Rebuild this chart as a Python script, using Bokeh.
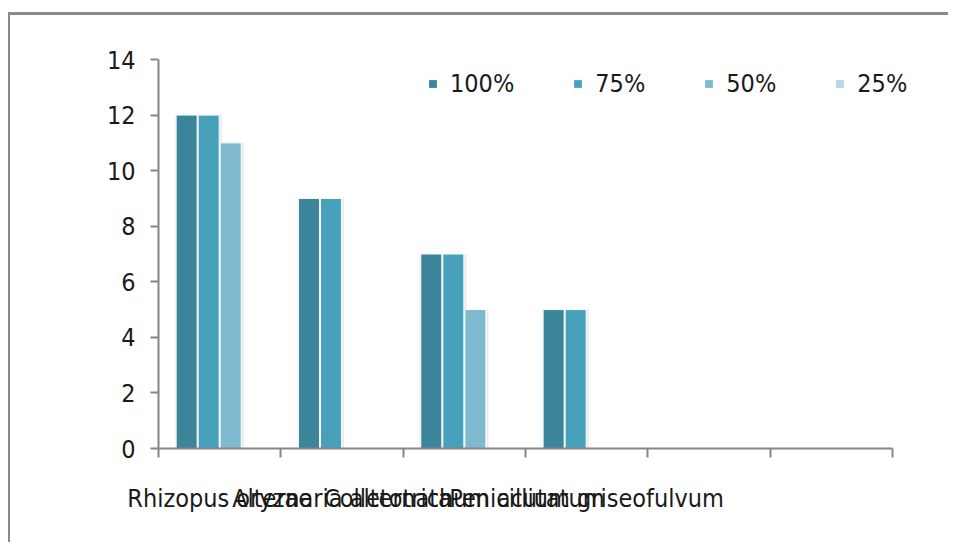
from bokeh.plotting import figure
from bokeh.models import (Range1d, LinearAxis, FixedTicker, ColumnDataSource, Legend, LegendItem)
from bokeh.transform import dodge
from bokeh.embed import file_html
from bokeh.resources import INLINE

categories = ["Rhizopus oryzae", "Alternaria alternata", "Colletotrichum acutatum",
              "Penicillium griseofulvum", "", ""]
series = ["100%", "75%", "50%", "25%"]
v100 = [12, 9, 7, 5, 0, 0]
v75 = [12, 9, 7, 5, 0, 0]
v50 = [11, 0, 5, 0, 0, 0]
v25 = [0, 0, 0, 0, 0, 0]
colors = ["#3A8599", "#48A1BA", "#7FB9D0", "#B6D6E2"]
y_ticks = [0, 2, 4, 6, 8, 10, 12, 14]

FONT = "DejaVu Sans Condensed"
FS = "25px"

n = len(categories)
centers = [i + 0.5 for i in range(n)]
src = ColumnDataSource(dict(x=centers, s100=v100, s75=v75, s50=v50, s25=v25))

p = figure(width=940, height=530, output_backend="svg", toolbar_location=None,
           x_range=Range1d(0, n * 772 / 734), y_range=Range1d(0, 14),
           x_axis_location=None, y_axis_location=None,
           min_border_left=148, min_border_top=44, min_border_right=20, min_border_bottom=97)
p.styles = {"margin-top": "12px", "margin-left": "8px",
            "border-top": "3px solid #8a8a8a", "border-left": "2px solid #8a8a8a"}
p.outline_line_color = None
p.xgrid.visible = False
p.ygrid.visible = False

offsets = [-0.27, -0.09, 0.09, 0.27]
keys = ["s100", "s75", "s50", "s25"]
renderers = []
for k, off in zip(keys, offsets):
    p.vbar(x=dodge("x", off + 0.006), top=k, width=0.205, source=src,
           fill_color="#000000", fill_alpha=0.07, line_color=None)
for k, off, c in zip(keys, offsets, colors):
    r = p.vbar(x=dodge("x", off), top=k, width=0.172, source=src,
               fill_color=c, line_color="white", line_width=1)
    renderers.append(r)

# y axis
yax = LinearAxis(ticker=FixedTicker(ticks=y_ticks))
yax.axis_line_color = "#868686"
yax.axis_line_width = 2
yax.major_tick_line_color = "#868686"
yax.major_tick_line_width = 2
yax.major_tick_in = 0
yax.major_tick_out = 8
yax.minor_tick_line_color = None
yax.major_label_text_font = FONT
yax.major_label_text_font_size = FS
yax.major_label_text_color = "#1a1a1a"
yax.major_label_standoff = 15
p.add_layout(yax, "left")

# x axis: labels at category centres, tick marks at category boundaries
labeled = [c for c, lab in zip(centers, categories) if lab]
xax = LinearAxis(ticker=FixedTicker(ticks=labeled, minor_ticks=list(range(n + 1))),
                 major_label_overrides={c: lab for c, lab in zip(centers, categories) if lab},
                 bounds=(0, n))
xax.axis_line_color = "#868686"
xax.axis_line_width = 2
xax.major_tick_line_color = None
xax.major_tick_in = 0
xax.major_tick_out = 0
xax.minor_tick_line_color = "#868686"
xax.minor_tick_line_width = 2
xax.minor_tick_in = 0
xax.minor_tick_out = 9
xax.major_label_text_font = FONT
xax.major_label_text_font_size = FS
xax.major_label_text_color = "#1a1a1a"
xax.major_label_standoff = 26
p.add_layout(xax, "below")

legend = Legend(items=[LegendItem(label=s, renderers=[r]) for s, r in zip(series, renderers)],
                orientation="horizontal", location=(269, 350))
legend.glyph_width = 11
legend.glyph_height = 11
legend.label_standoff = 12
legend.spacing = 58
legend.padding = 0
legend.margin = 0
legend.border_line_color = None
legend.background_fill_alpha = 0
legend.label_text_font = FONT
legend.label_text_font_size = FS
legend.label_text_color = "#1a1a1a"
p.add_layout(legend, "center")

open("out.html", "w").write(file_html(p, INLINE))
